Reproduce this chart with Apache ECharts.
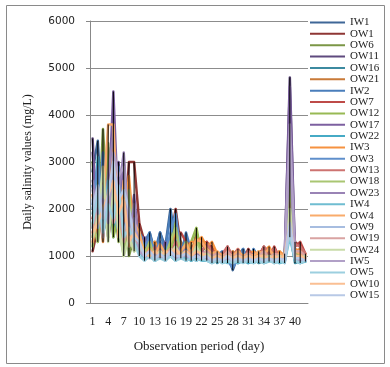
<!DOCTYPE html>
<html>
<head>
<meta charset="utf-8">
<script src="https://cdn.jsdelivr.net/npm/echarts@6/dist/echarts.min.js"></script>
<style>
  html, body { margin: 0; padding: 0; background: #fff; }
  #chart { width: 390px; height: 367px; }
</style>
</head>
<body>
<div id="chart"></div>
<script>
// observation days
var days = ['1','2','3','4','5','6','7','8','9','10','11','12','13','14','15','16','17','18','19','20','21',
            '22','23','24','25','26','27','28','29','30','31','32','33','34','35','36','37','38','39','40','41','42'];

var yTicks = { min: 0, max: 6000, step: 1000 };

// daily salinity per well (mg/L)
var IW1  = [2800,3450,1500,2300,1900,2600,1400,2200,1600,1300, 1200,1500,1100,1500,1200,2000,1300,1100,1400,1000, 1200,1100,1000,950,1000,900,1050,700,1000,1150, 900,1100,950,1000,900,1050,950,1000,1800,1000, 950,1000];
var OW1  = [1100,1600,2400,1400,2100,1500,1300,3000,3000,1700, 1300,1000,1250,1000,1100,1300,2000,1200,1000,1100, 1000,1300,1250,1200,950,1000,1200,950,1100,900, 1150,950,1000,1200,950,1100,900,1000,2200,1300, 1200,1000];
var OW6  = [3000,1300,3700,1700,2400,1300,2800,1000,1400,1200, 1100,1300,1000,1200,1100,1400,1800,1000,1200,1000, 1500,1100,1200,1000,1050,900,1000,1050,900,1000, 1000,900,1100,950,1000,900,1050,950,2700,1100, 1000,950];
var OW11 = [3500,1400,2500,3300,1700,3000,1500,2500,1300,1400, 1100,1200,950,1300,1000,1200,1100,1300,1000,1200, 1100,1000,1100,950,1000,1000,900,950,1050,900, 1000,1050,900,1000,1050,950,1000,900,4800,1000, 1050,950];
var OW16 = [2000,2700,1600,2900,1400,2300,1800,1500,1900,1200, 1000,1100,900,1000,950,1100,1000,950,1050,900, 1000,950,900,1000,850,950,900,1000,850,950, 900,950,850,900,950,850,900,950,1500,850, 900,880];
var OW21 = [1400,2200,1300,3100,2700,1600,2500,1300,2000,1500, 1200,1000,1300,1000,1200,1100,1250,1300,1000,1100, 1400,1200,1300,1100,1000,1050,950,1100,1000,1050, 950,1000,1050,1100,1000,1150,1000,950,1600,1100, 1150,1000];
var IW2  = [2500,1800,3200,1500,2900,1400,2100,1700,1500,1500, 1300,1500,1000,1500,1100,1900,1200,1000,1500,1100, 1000,1150,950,1100,1000,1100,900,1000,950,1150, 850,1150,950,1050,1000,900,1100,850,1700,950, 1050,950];
var OW7  = [1800,2300,1500,2600,1800,2200,1200,2000,1600,1300, 1100,1300,1050,1150,1000,1200,1400,1500,1300,1200, 1100,1250,1300,1150,1000,950,1150,900,1100,950, 1100,900,1050,1150,950,1200,950,1050,2000,1200, 1300,1050];
var OW12 = [1200,2600,1800,3400,1400,1900,1100,1600,1200,1300, 1000,1200,1000,1100,1250,1000,1700,1100,1000,1300, 1600,1000,1100,1000,950,1000,1050,950,1000,1050, 1000,950,1050,1000,1100,1000,950,1050,2400,1050, 1000,1000];
var OW17 = [3200,1700,2900,2000,4500,1800,3000,1500,2300,1100, 1400,1000,1200,1000,1300,1100,1200,1000,1100,1000, 1000,1100,1000,1050,900,1000,950,1000,900,1000, 950,1000,900,950,1000,950,1000,950,4600,950, 1000,900];
var OW22 = [1600,3100,1400,2200,2800,1700,2400,1300,1700,1100, 950,1050,900,1000,900,1050,950,1000,900,950, 900,1000,950,900,950,850,900,950,850,900, 850,900,950,850,900,950,850,900,1700,900, 850,900];
var IW3  = [2300,1500,2800,1900,3300,2400,1600,2700,1400,1200, 1100,1200,1300,1100,1000,1300,1500,1200,1100,1300, 1300,1400,1200,1300,1050,1000,1100,1000,1150,1000, 1050,1100,1000,1100,1200,1000,1100,1000,1900,1150, 1100,1050];
var OW3  = [2100,2900,1700,2500,2000,2900,1500,2000,1300,1400, 1200,1400,1100,1300,1000,1500,1900,1000,1200,1000, 1100,1000,1050,900,950,1000,900,750,950,1100, 900,1050,900,1000,950,1000,900,950,1800,950, 950,900];
var OW13 = [1500,2000,2700,1600,2300,1500,2100,1200,1800,1400, 1100,1000,1200,1050,1100,1000,1300,1100,1200,1100, 1200,1100,1250,1100,1000,1050,1200,1000,1150,950, 1100,1000,950,1200,1050,1150,1000,1000,2200,1250, 1200,1050];
var OW18 = [1700,1300,2300,1400,3000,1700,1000,2400,1100,1500, 1050,1300,950,1200,1000,1300,1600,1050,1300,1000, 1300,1000,1100,950,1000,950,1050,1000,950,1000, 1000,950,1000,1050,950,1000,950,1000,2600,1000, 950,1000];
var OW23 = [2600,2000,1500,2700,3600,2300,3200,1400,2100,1200, 1000,1100,1000,1150,950,1100,1000,1200,1050,1000, 1050,1000,1000,950,1000,900,1000,950,1000,950, 1000,950,1000,950,1000,950,1000,950,3200,1000, 950,1000];
var IW4  = [1900,2400,1600,2600,2000,1500,2300,1200,1500,1100, 950,1000,900,1050,950,1000,900,1000,950,900, 950,900,900,850,900,900,850,900,850,900, 880,850,900,850,880,900,850,880,1400,900, 850,880];
var OW4  = [1300,1900,2100,3800,3800,1400,2600,1200,1700,1500, 1000,1150,1000,1250,1050,1150,1000,1100,1250,1050, 1350,1300,1150,1050,1100,1000,1050,1000,1100,1000, 1050,1000,1100,1050,1150,1000,1050,1000,1600,1100, 1050,1000];
var OW9  = [2200,1600,2500,1800,2800,2000,1500,1900,1200,1100, 1000,1050,950,1000,900,1050,1000,950,1050,950, 1000,950,1000,900,950,900,950,900,950,900, 950,900,950,900,950,900,950,900,1600,950, 900,950];
var OW19 = [1600,2100,1400,2400,1700,2000,1300,1800,1400,1200, 1050,1100,1000,1100,1000,1150,1100,1000,1100,1050, 1150,1050,1100,1000,1050,950,1100,950,1050,950, 1050,950,1000,1100,950,1050,1000,950,1900,1100, 1100,1000];
var OW24 = [1400,1800,2900,1300,2500,1600,1000,1400,1100,1200, 1000,1050,950,1100,1000,1050,1200,1000,1100,950, 1200,1000,1050,950,1000,950,1000,950,1000,950, 1000,950,1000,950,1000,950,1000,950,2000,1000, 950,1000];
var IW5  = [2400,1900,2200,1700,3200,2700,2900,1600,1800,1100, 1000,950,1050,950,1000,1000,950,1050,1000,950, 1000,950,950,900,950,900,950,900,950,900, 950,900,950,900,950,900,950,900,3800,950, 900,950];
var OW5  = [1700,2300,1500,2100,1800,2500,1400,1600,1300,1000, 900,1000,900,950,900,1000,900,950,900,950, 900,950,900,850,900,850,900,850,900,850, 900,850,900,850,900,850,900,850,1500,900, 850,900];
var OW10 = [1500,1700,2000,2300,2600,1900,2200,1300,1500,1300, 1050,1000,1100,1000,1100,1050,1150,1000,1100,1000, 1100,1050,1000,950,1000,950,1000,950,1000,950, 1000,950,1000,1000,950,1000,950,1000,1700,1000, 1000,950];
var OW15 = [2000,2500,1800,2300,3000,2200,2400,2000,1400,1300, 1000,1100,950,1050,950,1100,1000,1000,1050,950, 1000,950,1000,900,950,900,1000,900,950,900, 950,900,950,900,950,900,950,900,1700,950, 950,900];

var wellNames = ['IW1','OW1','OW6','OW11','OW16','OW21','IW2','OW7','OW12','OW17','OW22','IW3',
                 'OW3','OW13','OW18','OW23','IW4','OW4','OW9','OW19','OW24','IW5','OW5','OW10','OW15'];
var wellData = [IW1,OW1,OW6,OW11,OW16,OW21,IW2,OW7,OW12,OW17,OW22,IW3,
                OW3,OW13,OW18,OW23,IW4,OW4,OW9,OW19,OW24,IW5,OW5,OW10,OW15];
var colors = ['#3f6797','#8e3634','#7b9646','#5f4a7e','#3c8aa0','#c97a38',
              '#4a7ebb','#be4b48','#98b954','#7d60a0','#46aac5','#f69240',
              '#5f8fcb','#cd7371','#a9c672','#9983b5','#6fbdd1','#f9ab6b',
              '#a7bde0','#d9a3a2','#c9dba8','#b1a0c7','#9ccfdf','#fabf93','#b8c9e6'];

// high-low lines: min and max over all wells for each day
var highLow = days.map(function (d, i) {
  var vals = wellData.map(function (s) { return s[i]; });
  return [i, Math.min.apply(null, vals), Math.max.apply(null, vals)];
});

var serif = '"Liberation Serif", "Times New Roman", serif';

var series = wellData.map(function (arr, k) {
  return {
    name: wellNames[k],
    type: 'line',
    data: arr,
    symbol: 'none',
    lineStyle: { width: 2.5, color: colors[k], cap: 'round', join: 'round' },
    itemStyle: { color: colors[k] }
  };
});
series.push({
  type: 'custom',
  data: highLow,
  encode: { x: 0, y: [1, 2] },
  renderItem: function (params, api) {
    var lo = api.coord([api.value(0), api.value(1)]);
    var hi = api.coord([api.value(0), api.value(2)]);
    return {
      type: 'line',
      shape: { x1: lo[0], y1: lo[1], x2: hi[0], y2: hi[1] },
      style: { stroke: '#000', lineWidth: 1 }
    };
  },
  z: 5
});

var myChart = echarts.init(document.getElementById('chart'));
myChart.setOption({
  animation: false,
  backgroundColor: '#fff',
  color: colors,
  graphic: [{
    type: 'rect',
    shape: { x: 6.5, y: 5.5, width: 378, height: 358 },
    style: { fill: 'none', stroke: '#8a8a8a', lineWidth: 1 },
    silent: true
  }],
  grid: { left: 90, right: 82, top: 21, bottom: 64 },
  legend: {
    data: wellNames,
    orient: 'vertical',
    left: 305,
    top: 12,
    icon: 'rect',
    itemWidth: 35,
    itemHeight: 2,
    itemGap: 0.36,
    textStyle: { fontFamily: serif, fontSize: 11, lineHeight: 11, color: '#222' }
  },
  xAxis: {
    type: 'category',
    data: days,
    boundaryGap: true,
    axisLine: { lineStyle: { color: '#888' } },
    axisTick: { show: false },
    axisLabel: { interval: 2, fontFamily: serif, fontSize: 12, color: '#222', margin: 13 },
    name: 'Observation period (day)',
    nameLocation: 'middle',
    nameGap: 37,
    nameTextStyle: { fontFamily: serif, fontSize: 13, color: '#222' }
  },
  yAxis: {
    type: 'value',
    min: yTicks.min,
    max: yTicks.max,
    interval: yTicks.step,
    axisLine: { show: true, lineStyle: { color: '#888' } },
    axisTick: { show: true, length: 4, lineStyle: { color: '#888' } },
    splitLine: { lineStyle: { color: '#8c8c8c' } },
    axisLabel: {
      fontFamily: '"DejaVu Sans", sans-serif', fontSize: 10.5, color: '#222', margin: 15,
      formatter: function (v) { return String(v); }
    },
    name: 'Daily salinity values (mg/L)',
    nameLocation: 'middle',
    nameGap: 56,
    nameTextStyle: { fontFamily: serif, fontSize: 12, color: '#222' }
  },
  series: series
});
</script>
</body>
</html>
